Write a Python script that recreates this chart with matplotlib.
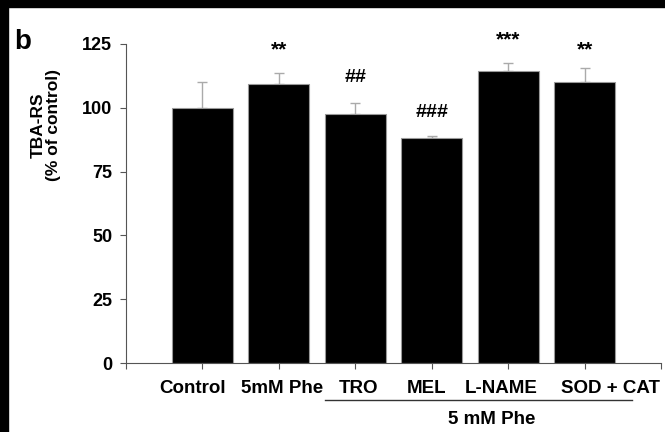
import matplotlib.pyplot as plt
import matplotlib.transforms as mtransforms
from matplotlib.patches import Rectangle
import numpy as np

plt.rcParams['font.family'] = ['Liberation Sans', 'DejaVu Sans']
plt.rcParams['font.weight'] = 'bold'

# data
groups = ['Control', '5mM Phe', 'TRO', 'MEL', 'L-NAME', 'SOD + CAT']
values = [100, 109.5, 97.5, 88, 114.5, 110]
errors = [10, 4, 4.5, 0.8, 3, 5.5]
marks = ['', '**', '##', '###', '***', '**']
mark_y = [0, 122.5, 112, 98, 126.5, 122.5]

fig = plt.figure(figsize=(6.65, 4.32), dpi=100)
ax = fig.add_axes([126/665, 1 - 363/432, 535/665, 319/432])

x = np.arange(len(groups))
ax.bar(x, values, width=0.8, color='black', edgecolor='#999999', linewidth=0.8, zorder=2)
ax.errorbar(x, values, yerr=[np.zeros(len(errors)), errors], fmt='none',
            ecolor='#aaaaaa', elinewidth=1, capsize=3.5, capthick=1, zorder=1)

for xi, m, my in zip(x, marks, mark_y):
    if m:
        fs = 14 if '#' in m else 15
        ax.text(xi, my, m, ha='center', va='center', fontsize=fs, fontweight='bold')

ax.set_xlim(-1, 6)
ax.set_ylim(0, 125)
ax.set_yticks([0, 25, 50, 75, 100, 125])
ax.set_xticks(np.arange(-1, 7))
ax.set_xticklabels([''] + groups + [''])
ax.tick_params(axis='both', direction='out', length=4, width=0.8, color='#555555')
ax.tick_params(axis='x', pad=8, labelsize=13.5)
ax.tick_params(axis='y', pad=6, labelsize=13)
for lab in ax.get_xticklabels() + ax.get_yticklabels():
    lab.set_fontweight('bold')

# labels in the original are not quite centred under their bars
shifts_px = [0, -10, 3, 3, -5, -7, 26, 0]
for lab, dx in zip(ax.get_xticklabels(), shifts_px):
    lab.set_transform(lab.get_transform() +
                      mtransforms.ScaledTranslation(dx / 100, 0, fig.dpi_scale_trans))

ax.spines['top'].set_visible(False)
ax.spines['right'].set_visible(False)
ax.spines['left'].set_color('#555555')
ax.spines['bottom'].set_color('#555555')
ax.spines['left'].set_linewidth(0.8)
ax.spines['bottom'].set_linewidth(0.8)

ax.set_ylabel('TBA-RS\n(% of control)', fontsize=12.5, fontweight='bold', linespacing=1.0)
ax.yaxis.set_label_coords(-0.122, 0.745)

# group bracket under the treatments
trans = mtransforms.blended_transform_factory(ax.transData, fig.transFigure)
ax.plot([1.60, 5.62], [1 - 400/432, 1 - 400/432], color='#333333', lw=1,
        transform=trans, clip_on=False)
ax.text(3.79, 1 - 420/432, '5 mM Phe', transform=trans, ha='center', va='center',
        fontsize=13.5, fontweight='bold')

fig.text(23/665, 1 - 42/432, 'b', ha='center', va='center', fontsize=20, fontweight='bold')

# black border strips of the scanned figure
fig.add_artist(Rectangle((0, 1 - 7/432), 1, 7/432, transform=fig.transFigure,
                         color='black', zorder=10))
fig.add_artist(Rectangle((0, 0), 8/665, 1, transform=fig.transFigure,
                         color='black', zorder=10))

fig.savefig('out.png', dpi=100)
